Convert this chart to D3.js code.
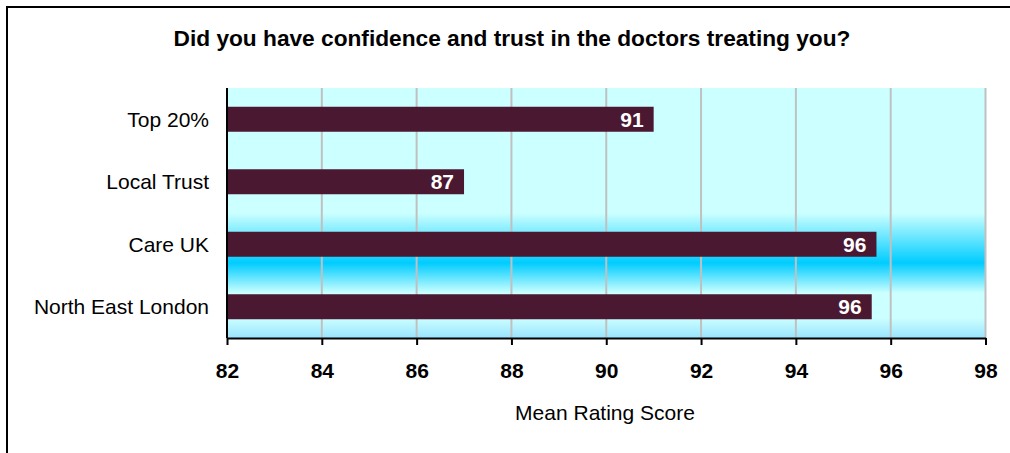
<!DOCTYPE html>
<html>
<head>
<meta charset="utf-8">
<script src="https://cdn.jsdelivr.net/npm/d3@7"></script>
<style>
  body { margin: 0; background: #fff; }
  text { font-family: Arial, "Liberation Sans", sans-serif; }
</style>
</head>
<body>
<div class="svg-container"></div>
<script>
// chart data
var categories = ["Top 20%", "Local Trust", "Care UK", "North East London"];
var scores = [91.0, 87.0, 95.7, 95.6];
var xTicks = [82, 84, 86, 88, 90, 92, 94, 96, 98];
var title = "Did you have confidence and trust in the doctors treating you?";
var xTitle = "Mean Rating Score";

var svg1 = d3.select("body").select(".svg-container").append("svg")
    .attr("width", 1010)
    .attr("height", 453);

var plotLeft = 227, plotRight = 985.5, plotTop = 88, plotBottom = 338;

// outer frame (right/bottom edges fall outside the picture)
svg1.append("rect")
    .attr("x", 7).attr("y", 7)
    .attr("width", 1100).attr("height", 600)
    .attr("fill", "none")
    .attr("stroke", "black")
    .attr("stroke-width", 2);

var x = d3.scaleLinear().domain([82, 98]).range([plotLeft, plotRight]);
var y = d3.scaleBand().domain(categories).range([plotTop, plotBottom])
    .paddingInner(0.6).paddingOuter(0.3);

// background gradient of the plot area
var defs = svg1.append("defs");
var grad = defs.append("linearGradient")
    .attr("id", "bg")
    .attr("x1", 0).attr("y1", 0).attr("x2", 0).attr("y2", 1);
[[0, "#ccffff"], [0.5, "#ccffff"], [0.7, "#00ccff"], [0.82, "#ccffff"],
 [0.92, "#ccffff"], [1, "#99e4ff"]].forEach(function(s) {
    grad.append("stop").attr("offset", s[0]).attr("stop-color", s[1]);
});

svg1.append("rect")
    .attr("x", plotLeft).attr("y", plotTop)
    .attr("width", plotRight - plotLeft).attr("height", plotBottom - plotTop)
    .attr("fill", "url(#bg)");

// gridlines
svg1.append("g")
    .selectAll("line")
    .data(xTicks.slice(1))
    .enter()
    .append("line")
    .attr("x1", function(d) { return x(d); })
    .attr("x2", function(d) { return x(d); })
    .attr("y1", plotTop)
    .attr("y2", plotBottom)
    .attr("stroke", "#c0c0c0")
    .attr("stroke-width", 2);

// bars
svg1.append("g")
    .selectAll("rect")
    .data(scores)
    .enter()
    .append("rect")
    .attr("x", x(82))
    .attr("y", function(d, i) { return y(categories[i]); })
    .attr("width", function(d) { return x(d) - x(82); })
    .attr("height", y.bandwidth())
    .attr("fill", "#4a1830");

// value labels
svg1.append("g")
    .selectAll("text")
    .data(scores)
    .enter()
    .append("text")
    .attr("x", function(d) { return x(d) - 10; })
    .attr("y", function(d, i) { return y(categories[i]) + y.bandwidth() / 2; })
    .attr("dy", "0.36em")
    .attr("text-anchor", "end")
    .attr("fill", "white")
    .attr("font-weight", "bold")
    .attr("font-size", "21px")
    .text(function(d) { return Math.round(d); });

// x axis
var xAxis = svg1.append("g")
    .attr("transform", "translate(0," + plotBottom + ")")
    .call(d3.axisBottom(x).tickValues(xTicks).tickSize(7).tickPadding(18).tickSizeOuter(0));
xAxis.select(".domain").attr("stroke", "black").attr("stroke-width", 2);
xAxis.selectAll(".tick line").attr("stroke", "black").attr("stroke-width", 2);
xAxis.selectAll(".tick text")
    .attr("fill", "black")
    .attr("font-size", "21px")
    .attr("font-weight", "bold")
    .attr("font-family", "Arial, 'Liberation Sans', sans-serif");

// y axis line
svg1.append("line")
    .attr("x1", plotLeft).attr("x2", plotLeft)
    .attr("y1", plotTop).attr("y2", plotBottom)
    .attr("stroke", "black")
    .attr("stroke-width", 2);

// category labels
svg1.append("g")
    .selectAll("text")
    .data(categories)
    .enter()
    .append("text")
    .attr("x", 209)
    .attr("y", function(d) { return y(d) + y.bandwidth() / 2; })
    .attr("dy", "0.35em")
    .attr("text-anchor", "end")
    .attr("fill", "black")
    .attr("font-size", "21px")
    .text(function(d) { return d; });

// title
svg1.append("text")
    .attr("x", 512)
    .attr("y", 46)
    .attr("text-anchor", "middle")
    .attr("font-weight", "bold")
    .attr("font-size", "22.7px")
    .attr("fill", "black")
    .text(title);

// axis title
svg1.append("text")
    .attr("x", 605)
    .attr("y", 420)
    .attr("text-anchor", "middle")
    .attr("font-size", "21px")
    .attr("fill", "black")
    .text(xTitle);
</script>
</body>
</html>
